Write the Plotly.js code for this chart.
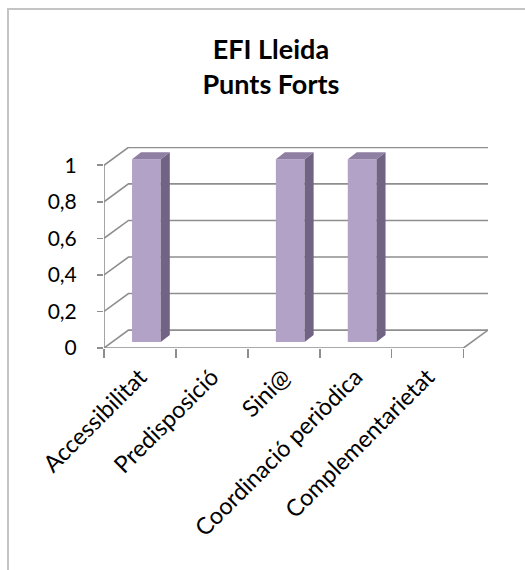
<!DOCTYPE html>
<html>
<head>
<meta charset="utf-8">
<script src="https://cdn.plot.ly/plotly-3.0.1.min.js"></script>
<style>
  html, body { margin: 0; padding: 0; background: #fff; overflow: hidden; }
  #chart { position: absolute; left: 0; top: 0; width: 525px; height: 570px; }
  #frame { position: absolute; left: 7px; top: 8px; width: 700px; height: 700px;
           border-left: 2px solid #C4C4C4; border-top: 2px solid #C4C4C4; pointer-events: none; }
</style>
</head>
<body>
<div id="chart"></div>
<div id="frame"></div>
<script>
// ---- data ----
const categories = ['Accessibilitat', 'Predisposició', 'Sini@', 'Coordinació periòdica', 'Complementarietat'];
const values = [1, 0, 1, 1, 0];
const yTickVals = [0, 0.2, 0.4, 0.6, 0.8, 1];
const yTickText = ['0', '0,2', '0,4', '0,6', '0,8', '1'];
const chartTitle = 'EFI Lleida<br>Punts Forts';

// ---- 3D look (style constants, in axis units) ----
const DX = 0.34, DY = 0.098;          // depth of back wall
const BAR_OFF = -0.11, BAR_W = 0.40;  // bar front face relative to category centre
const BAR_BASE = 0.033;               // bars stand at mid-depth
const SX = 0.125, SY = 0.038;         // depth of each bar
const GRID = '#8E8E8E';
const FRONT = '#B3A2C7', SIDE = '#716384', TOPC = '#8E7FA3';
const Y_RANGE = [0, 1.1];

const idx = categories.map((_, i) => i);
const xLeft = -0.5, xRight = categories.length - 0.5;

// side and top faces of the bars, built from the values
const sideFace = { x: [], y: [] }, topFace = { x: [], y: [] };
values.forEach((v, i) => {
  if (!v) return;
  const x0 = i + BAR_OFF, x1 = x0 + BAR_W, b = BAR_BASE, t = BAR_BASE + v;
  sideFace.x.push(x1, x1 + SX, x1 + SX, x1, x1, null);
  sideFace.y.push(b, b + SY, t + SY, t, b, null);
  topFace.x.push(x0, x1, x1 + SX, x0 + SX, x0, null);
  topFace.y.push(t, t, t + SY, t + SY, t, null);
});

// walls / gridlines as shapes behind the bars
const shapes = [];
yTickVals.forEach(v => {
  shapes.push({ type: 'path', xref: 'x', yref: 'y', layer: 'below',
    path: `M${xLeft},${v} L${xLeft + DX},${v + DY} L${xRight + DX},${v + DY}`,
    line: { color: GRID, width: 1.6 } });
});
shapes.push({ type: 'path', xref: 'x', yref: 'y', layer: 'below',
  path: `M${xLeft},0 L${xRight},0 L${xRight + DX},${DY}`, line: { color: GRID, width: 1.6 } });
shapes.push({ type: 'line', xref: 'x', yref: 'y', layer: 'below',
  x0: xLeft, x1: xLeft, y0: 0, y1: yTickVals[yTickVals.length - 1], line: { color: GRID, width: 1.6 } });

const traces = [
  { type: 'bar', x: idx, y: values, base: BAR_BASE, width: BAR_W, offset: BAR_OFF,
    marker: { color: FRONT, line: { width: 0 } }, hoverinfo: 'skip' },
  { type: 'scatter', mode: 'lines', x: sideFace.x, y: sideFace.y, fill: 'toself', fillcolor: SIDE,
    line: { width: 0, color: SIDE }, hoverinfo: 'skip', yaxis: 'y2' },
  { type: 'scatter', mode: 'lines', x: topFace.x, y: topFace.y, fill: 'toself', fillcolor: TOPC,
    line: { width: 0, color: TOPC }, hoverinfo: 'skip', yaxis: 'y2' }
];

const tickFontY = { size: 21, family: 'Lato, sans-serif', color: '#000' };

const layout = {
  width: 525, height: 570,
  margin: { l: 104, r: 37, t: 147, b: 222, pad: 0 },
  paper_bgcolor: '#fff', plot_bgcolor: 'rgba(0,0,0,0)',
  showlegend: false,
  font: { family: 'Lato, sans-serif', color: '#000' },
  title: { text: chartTitle, font: { family: 'Lato, sans-serif', size: 27, weight: 700, color: '#000' },
           x: 0.516, xanchor: 'center', y: 0.8965, yanchor: 'middle', xref: 'container', yref: 'container' },
  xaxis: {
    range: [xLeft, xRight + DX], tickvals: idx, ticktext: categories, tickangle: -45,
    ticks: 'outside', ticklen: 5, tickcolor: 'rgba(0,0,0,0)',
    showgrid: false, zeroline: false, showline: false,
    tickfont: { size: 23.5, family: 'Lato, sans-serif', color: '#000' },
    minor: { tickvals: idx.map(i => i - 0.5).concat([xRight]), ticks: 'outside', ticklen: 9,
             tickwidth: 1.6, tickcolor: GRID, showgrid: false },
    fixedrange: true
  },
  // visible short tick marks at the front axis
  yaxis: {
    range: Y_RANGE, tickvals: yTickVals, showticklabels: false,
    ticks: 'outside', ticklen: 6, tickwidth: 1.6, tickcolor: GRID,
    showgrid: false, zeroline: false, showline: false, fixedrange: true
  },
  // tick labels, set further out as in the original
  yaxis2: {
    overlaying: 'y', anchor: 'x', side: 'left',
    range: Y_RANGE, tickvals: yTickVals, ticktext: yTickText,
    ticks: 'outside', ticklen: 22, tickcolor: 'rgba(0,0,0,0)',
    showgrid: false, zeroline: false, showline: false,
    tickfont: tickFontY, fixedrange: true
  },
  shapes: shapes
};

Plotly.newPlot('chart', traces, layout, { staticPlot: true, displayModeBar: false });
</script>
</body>
</html>
